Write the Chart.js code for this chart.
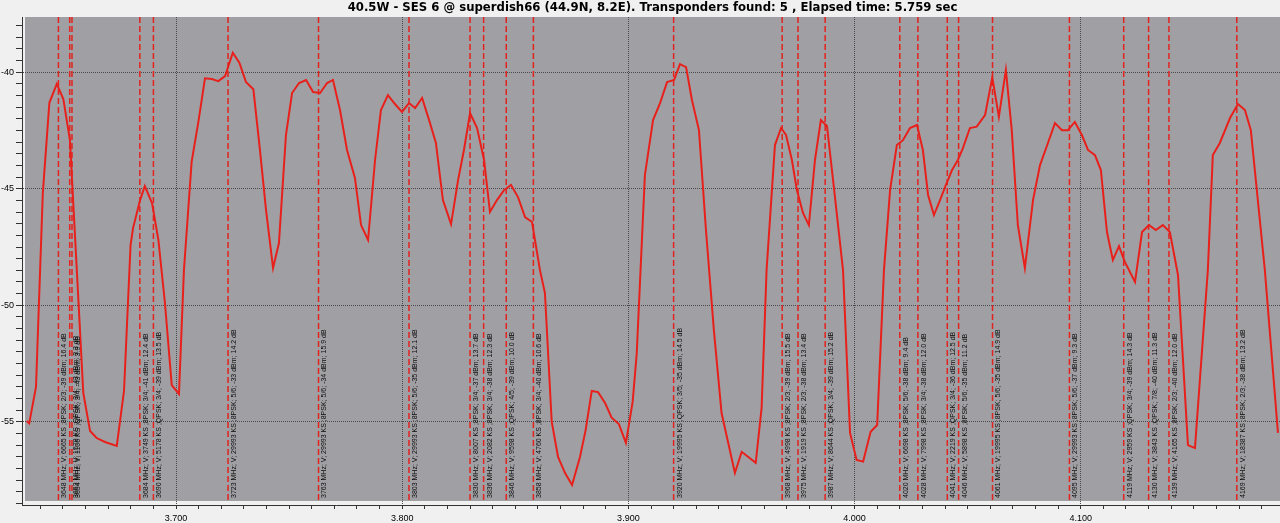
<!DOCTYPE html>
<html lang="en">
<head>
  <meta charset="UTF-8" />
  <title>Spectrum scan - SES 6</title>
  <style>
    body { margin: 0; background: #f0f0f0; }
    .grafico-box { width: 1280px; height: 523px; }
  </style>
</head>
<body>
  <div class="grafico-box">
    <canvas id="graficoEspectro" width="1280" height="523"></canvas>
  </div>

  <script src="https://cdn.jsdelivr.net/npm/chart.js@4.4.0/dist/chart.umd.min.js"></script>
  <script>
  const titulo = '40.5W - SES 6 @ superdish66 (44.9N, 8.2E). Transponders found: 5 , Elapsed time: 5.759 sec';

  // spectrum trace (GHz / dB)
  const freqGHz = [
    3.6340, 3.6351, 3.6381, 3.6411, 3.6440, 3.6473, 3.6502, 3.6531, 3.6590, 3.6620,
    3.6649, 3.6686, 3.6738, 3.6770, 3.6799, 3.6810, 3.6841, 3.6862, 3.6894, 3.6922,
    3.6951, 3.6981, 3.7013, 3.7035, 3.7069, 3.7100, 3.7128, 3.7158, 3.7187, 3.7217,
    3.7251, 3.7280, 3.7309, 3.7342, 3.7371, 3.7398, 3.7429, 3.7455, 3.7486, 3.7513,
    3.7544, 3.7575, 3.7606, 3.7637, 3.7668, 3.7694, 3.7725, 3.7756, 3.7791, 3.7818,
    3.7849, 3.7880, 3.7906, 3.7937, 3.7968, 3.7999, 3.8030, 3.8057, 3.8088, 3.8119,
    3.8149, 3.8180, 3.8216, 3.8247, 3.8273, 3.8300, 3.8331, 3.8362, 3.8388, 3.8419,
    3.8450, 3.8481, 3.8512, 3.8543, 3.8574, 3.8609, 3.8631, 3.8661, 3.8689, 3.8720,
    3.8751, 3.8786, 3.8811, 3.8838, 3.8866, 3.8897, 3.8926, 3.8958, 3.8989, 3.9019,
    3.9037, 3.9073, 3.9109, 3.9140, 3.9171, 3.9202, 3.9228, 3.9255, 3.9281, 3.9312,
    3.9343, 3.9378, 3.9412, 3.9471, 3.9501, 3.9563, 3.9589, 3.9611, 3.9648, 3.9675,
    3.9697, 3.9723, 3.9745, 3.9772, 3.9798, 3.9825, 3.9851, 3.9878, 3.9905, 3.9949,
    3.9980, 4.0009, 4.0038, 4.0071, 4.0100, 4.0130, 4.0157, 4.0187, 4.0214, 4.0245,
    4.0276, 4.0302, 4.0325, 4.0351, 4.0378, 4.0404, 4.0431, 4.0457, 4.0479, 4.0510,
    4.0540, 4.0577, 4.0609, 4.0638, 4.0669, 4.0695, 4.0722, 4.0753, 4.0789, 4.0820,
    4.0855, 4.0886, 4.0917, 4.0943, 4.0974, 4.1005, 4.1032, 4.1063, 4.1089, 4.1116,
    4.1142, 4.1169, 4.1195, 4.1240, 4.1271, 4.1302, 4.1332, 4.1363, 4.1394, 4.1430,
    4.1474, 4.1505, 4.1562, 4.1584, 4.1615, 4.1660, 4.1695, 4.1726, 4.1752, 4.1814,
    4.1872
  ];
  const levelDb = [
    -54.96, -55.06, -53.49, -45.19, -41.32, -40.51, -41.17, -42.92, -53.76, -55.39,
    -55.69, -55.86, -56.03, -53.67, -47.42, -46.69, -45.49, -44.89, -45.62, -47.20,
    -49.90, -53.42, -53.80, -48.49, -43.85, -42.06, -40.27, -40.30, -40.39, -40.17,
    -39.17, -39.60, -40.42, -40.74, -43.34, -45.92, -48.40, -47.33, -42.70, -40.90,
    -40.47, -40.34, -40.86, -40.90, -40.47, -40.34, -41.63, -43.34, -44.54, -46.56,
    -47.20, -43.77, -41.63, -40.99, -41.37, -41.71, -41.33, -41.54, -41.11, -42.06,
    -43.04, -45.49, -46.52, -44.63, -43.34, -41.76, -42.40, -43.77, -46.00, -45.49,
    -45.06, -44.84, -45.36, -46.22, -46.43, -48.49, -49.47, -54.99, -56.50, -57.19,
    -57.70, -56.50, -55.35, -53.67, -53.72, -54.19, -54.82, -55.09, -55.90, -54.13,
    -52.05, -44.42, -42.06, -41.33, -40.43, -40.34, -39.66, -39.79, -41.20, -42.49,
    -46.77, -51.06, -54.62, -57.19, -56.28, -56.75, -54.40, -48.49, -43.13, -42.40,
    -42.70, -43.77, -45.06, -46.04, -46.56, -43.77, -42.06, -42.31, -44.63, -48.49,
    -55.47, -56.63, -56.70, -55.42, -55.13, -48.49, -45.06, -43.13, -42.92, -42.40,
    -42.27, -43.34, -45.27, -46.13, -45.49, -44.84, -44.20, -43.77, -43.26, -42.40,
    -42.34, -41.84, -40.23, -41.92, -39.91, -42.49, -46.56, -48.40, -45.49, -43.99,
    -43.04, -42.19, -42.49, -42.49, -42.14, -42.70, -43.34, -43.56, -44.20, -46.86,
    -48.06, -47.46, -48.14, -49.00, -46.86, -46.56, -46.77, -46.56, -46.86, -48.70,
    -55.99, -56.12, -48.49, -43.56, -43.04, -41.97, -41.37, -41.63, -42.49, -48.49,
    -55.47
  ];

  // transponders found
  const tpFreqMHz = [3648, 3653, 3654, 3684, 3690, 3723, 3763, 3803, 3830, 3836, 3846, 3858, 3920,
                     3968, 3975, 3987, 4020, 4028, 4041, 4046, 4061, 4095, 4119, 4130, 4139, 4169];
  const tpSymbolRate = [6665, 1578, 1106, 3749, 5178, 29993, 29993, 29993, 8007, 2082, 9598, 4760, 19995,
                        4998, 1919, 8644, 6698, 7998, 2219, 5898, 19995, 29993, 2959, 3843, 4165, 18387];
  const tpModulation = ['8PSK', 'QPSK', 'QPSK', '8PSK', 'QPSK', '8PSK', '8PSK', '8PSK', '8PSK', '8PSK', 'QPSK', '8PSK', 'QPSK',
                        '8PSK', '8PSK', 'QPSK', '8PSK', '8PSK', 'QPSK', '8PSK', '8PSK', '8PSK', 'QPSK', 'QPSK', '8PSK', '8PSK'];
  const tpFec = ['2/3', '3/4', '3/4', '3/4', '3/4', '5/6', '5/6', '5/6', '3/4', '3/4', '4/5', '3/4', '3/5',
                 '2/3', '2/3', '3/4', '5/6', '3/4', '3/4', '5/6', '5/6', '5/6', '3/4', '7/8', '2/3', '2/3'];
  const tpPowerDbm = [-39, -43, -43, -41, -39, -33, -34, -35, -37, -38, -39, -40, -35,
                      -39, -38, -39, -38, -38, -36, -35, -35, -37, -39, -40, -40, -38];
  const tpSnrDb = [16.4, 3.3, 3.9, 12.4, 13.5, 14.2, 15.9, 12.1, 13.7, 12.3, 10.0, 10.6, 14.5,
                   15.5, 13.4, 15.2, 9.4, 12.0, 12.5, 11.2, 14.9, 9.3, 14.3, 11.3, 12.0, 13.2];

  // axes
  const xMajor = [3.7, 3.8, 3.9, 4.0, 4.1];
  const yMajor = [-40, -45, -50, -55];
  const xMin = 3.6319, xMax = 4.1881;
  const yMin = -58.56, yMax = -37.64;
  const yLineBottom = -58.39;

  function isMajor(v, lista) {
    return lista.some(m => Math.abs(m - v) < 1e-6);
  }

  function minorTicks(step) {
    return scale => {
      const ticks = [];
      for (let k = Math.ceil(scale.min / step - 1e-9); k * step <= scale.max + 1e-9; k++) {
        ticks.push({ value: +(k * step).toFixed(4) });
      }
      scale.ticks = ticks;
    };
  }

  const datasets = [{
    data: freqGHz.map((f, i) => ({ x: f, y: levelDb[i] })),
    borderColor: '#e8201c',
    borderWidth: 2,
    pointRadius: 0,
    tension: 0
  }];
  tpFreqMHz.forEach(f => {
    datasets.push({
      data: [{ x: f / 1000, y: yMax }, { x: f / 1000, y: yLineBottom }],
      borderColor: '#e2231f',
      borderWidth: 1.5,
      borderDash: [6, 3],
      pointRadius: 0
    });
  });

  const fundoPlot = {
    id: 'fundoPlot',
    beforeDraw(chart) {
      const { ctx, chartArea: a } = chart;
      ctx.save();
      ctx.fillStyle = '#f0f0f0';
      ctx.fillRect(0, 0, chart.width, chart.height);
      ctx.fillStyle = '#a0a0a4';
      ctx.fillRect(a.left + 3, a.top, a.right - a.left - 3, a.bottom - a.top - 4);
      ctx.restore();
    }
  };

  const textos = {
    id: 'textos',
    afterDraw(chart) {
      const { ctx, chartArea: a } = chart;
      const xs = chart.scales.x;
      ctx.save();
      ctx.fillStyle = '#0c0c0c';
      ctx.font = '7px "Liberation Sans"';
      ctx.textBaseline = 'top';
      ctx.textAlign = 'left';
      tpFreqMHz.forEach((f, i) => {
        const label = `${f} MHz; V; ${tpSymbolRate[i]} KS ;${tpModulation[i]}; ${tpFec[i]}; ${tpPowerDbm[i]} dBm; ${tpSnrDb[i].toFixed(1)} dB`;
        const px = xs.getPixelForValue(f / 1000);
        ctx.save();
        ctx.translate(px + 2.5, a.bottom - 7);
        ctx.rotate(-Math.PI / 2);
        ctx.fillText(label, 0, 0);
        ctx.restore();
      });

      ctx.fillStyle = '#000';
      ctx.font = 'bold 11.7px "DejaVu Sans"';
      ctx.textAlign = 'center';
      ctx.textBaseline = 'middle';
      ctx.fillText(titulo, (a.left + 3 + a.right) / 2, 8);
      ctx.restore();
    }
  };

  new Chart(document.getElementById('graficoEspectro'), {
    type: 'line',
    data: { datasets: datasets },
    options: {
      responsive: false,
      devicePixelRatio: 1,
      animation: false,
      layout: { padding: { top: 17, left: 0, right: 0, bottom: 0 } },
      plugins: {
        legend: { display: false },
        tooltip: { enabled: false },
        title: { display: false }
      },
      scales: {
        x: {
          type: 'linear',
          min: xMin,
          max: xMax,
          afterBuildTicks: minorTicks(0.01),
          afterFit: s => { s.height = 18; },
          ticks: {
            autoSkip: false,
            maxRotation: 0,
            minRotation: 0,
            padding: 4,
            color: '#000',
            font: { family: 'Liberation Sans', size: 9 },
            callback: v => isMajor(v, xMajor) ? v.toFixed(3) : ''
          },
          grid: {
            color: c => c.tick && isMajor(c.tick.value, xMajor) ? '#4a4a4a' : 'rgba(0,0,0,0)',
            tickColor: '#333',
            tickLength: 4,
            lineWidth: 1
          },
          border: { color: '#333', width: 1, dash: [1, 1] }
        },
        y: {
          type: 'linear',
          min: yMin,
          max: yMax,
          afterBuildTicks: minorTicks(0.5),
          afterFit: s => { s.width = 22; },
          ticks: {
            autoSkip: false,
            padding: 2,
            color: '#000',
            font: { family: 'Liberation Sans', size: 9 },
            callback: v => isMajor(v, yMajor) ? String(v) : ''
          },
          grid: {
            color: c => c.tick && isMajor(c.tick.value, yMajor) ? '#4a4a4a' : 'rgba(0,0,0,0)',
            tickColor: '#333',
            tickLength: 6,
            lineWidth: 1
          },
          border: { color: '#333', width: 1, dash: [1, 1] }
        }
      }
    },
    plugins: [fundoPlot, textos]
  });
  </script>
</body>
</html>
